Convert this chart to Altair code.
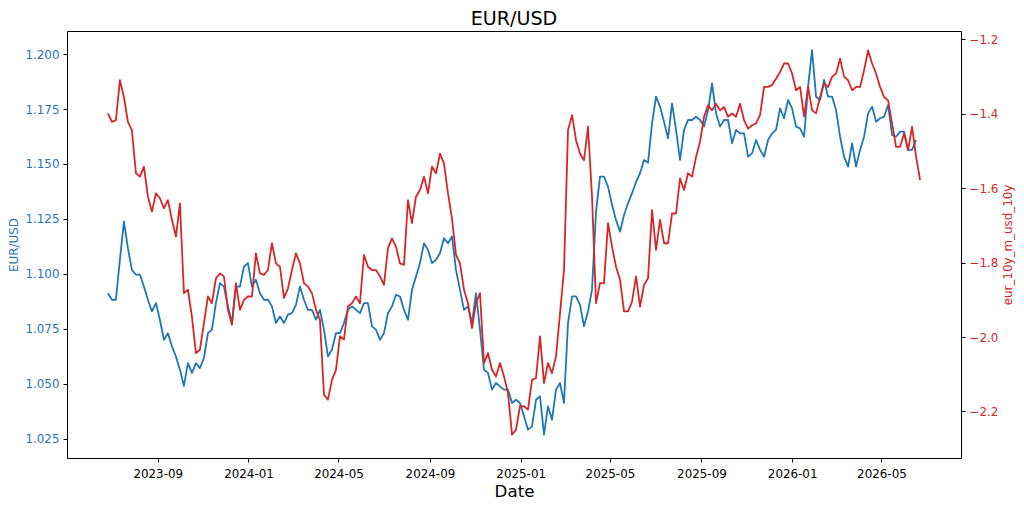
import altair as alt
import pandas as pd

FONT = "DejaVu Sans"
BLUE = "#1f77b4"
RED = "#d62728"

# evenly spaced observation dates read along the x axis
dates = pd.date_range("2023-06-26", "2026-06-22", periods=204)

eurusd = [
    1.0912, 1.0882, 1.0882, 1.1064, 1.1238, 1.1117, 1.1018, 1.0996, 1.0996, 1.0942,
    1.0882, 1.0829, 1.0867, 1.0791, 1.0700, 1.0730, 1.0670, 1.0624, 1.0564, 1.0490,
    1.0594, 1.0549, 1.0594, 1.0571, 1.0617, 1.0730, 1.0746, 1.0867, 1.0958, 1.0942,
    1.0852, 1.0776, 1.0942, 1.0942, 1.1033, 1.1049, 1.0942, 1.0973, 1.0912, 1.0882,
    1.0882, 1.0852, 1.0776, 1.0806,
    1.0776, 1.0814, 1.0821, 1.0859, 1.0942, 1.0882, 1.0836, 1.0836, 1.0791, 1.0836,
    1.0746, 1.0624, 1.0655, 1.0730, 1.0730, 1.0776, 1.0836, 1.0852, 1.0836, 1.0821,
    1.0867, 1.0867, 1.0761, 1.0746, 1.0700, 1.0730, 1.0821, 1.0852, 1.0905, 1.0897,
    1.0836, 1.0791, 1.0927, 1.0988, 1.1049, 1.1139, 1.1109, 1.1049, 1.1064, 1.1094,
    1.1162, 1.1139,
    1.1170, 1.1018, 1.0927, 1.0836, 1.0852, 1.0776, 1.0912, 1.0746, 1.0564, 1.0549,
    1.0473, 1.0503, 1.0488, 1.0473, 1.0473, 1.0412, 1.0427, 1.0412, 1.0352, 1.0291,
    1.0306, 1.0427, 1.0443, 1.0268, 1.0397, 1.0336, 1.0473, 1.0503, 1.0412, 1.0776,
    1.0897, 1.0897, 1.0859, 1.0761, 1.0829, 1.0927, 1.1283, 1.1442, 1.1442, 1.1397,
    1.1314, 1.1245,
    1.1192, 1.1268, 1.1321, 1.1367, 1.1417, 1.1458, 1.1518, 1.1506, 1.1685, 1.1806,
    1.1761, 1.1692, 1.1617, 1.1776, 1.1655, 1.1518, 1.1655, 1.1700, 1.1700, 1.1715,
    1.1700, 1.1670, 1.1745, 1.1867, 1.1730, 1.1670, 1.1700, 1.1700, 1.1594, 1.1655,
    1.1639, 1.1639, 1.1533, 1.1548, 1.1609, 1.1564, 1.1533, 1.1609, 1.1639, 1.1655,
    1.1753, 1.1708, 1.1791,
    1.1753, 1.1670, 1.1662, 1.1624, 1.1851, 1.2018, 1.1806, 1.1791, 1.1882, 1.1806,
    1.1806, 1.1745, 1.1624, 1.1533, 1.1488, 1.1594, 1.1488, 1.1564, 1.1624, 1.1730,
    1.1761, 1.1692, 1.1708, 1.1715, 1.1768, 1.1632, 1.1624, 1.1647, 1.1647, 1.1564,
    1.1564, 1.1609, None,
]

spread = [
    -1.399, -1.422, -1.417, -1.310, -1.355, -1.422, -1.444, -1.560, -1.569, -1.542,
    -1.623, -1.663, -1.614, -1.627, -1.654, -1.632, -1.685, -1.730, -1.641, -1.882,
    -1.873, -1.945, -2.043, -2.034, -1.963, -1.891, -1.909, -1.842, -1.829, -1.837,
    -1.927, -1.967, -1.855, -1.927, -1.900, -1.891, -1.891, -1.775, -1.829, -1.833,
    -1.820, -1.748, -1.802, -1.811,
    -1.895, -1.869, -1.820, -1.775, -1.802, -1.855, -1.864, -1.882, -1.927, -1.954,
    -2.155, -2.168, -2.115, -2.088, -1.998, -2.007, -1.918, -1.909, -1.891, -1.909,
    -1.779, -1.811, -1.820, -1.820, -1.837, -1.860, -1.761, -1.735, -1.757, -1.802,
    -1.806, -1.632, -1.694, -1.623, -1.605, -1.569, -1.614, -1.542, -1.560, -1.507,
    -1.534, -1.614,
    -1.681, -1.779, -1.802, -1.873, -1.909, -1.976, -1.909, -1.882, -2.070, -2.043,
    -2.088, -2.106, -2.070, -2.106, -2.150, -2.262, -2.249, -2.186, -2.186, -2.195,
    -2.115, -2.110, -1.998, -2.124, -2.070, -2.097, -2.052, -1.936, -1.820, -1.444,
    -1.404, -1.471, -1.507, -1.525, -1.435, -1.623, -1.909, -1.855, -1.855, -1.694,
    -1.757, -1.811,
    -1.846, -1.931, -1.931, -1.905, -1.837, -1.918, -1.860, -1.842, -1.659, -1.766,
    -1.685, -1.748, -1.748, -1.668, -1.668, -1.574, -1.605, -1.560, -1.569, -1.516,
    -1.475, -1.408, -1.377, -1.391, -1.373, -1.391, -1.382, -1.408, -1.399, -1.408,
    -1.373, -1.417, -1.440, -1.431, -1.426, -1.404, -1.328, -1.328, -1.323, -1.306,
    -1.288, -1.265, -1.265,
    -1.292, -1.337, -1.328, -1.408, -1.328, -1.391, -1.399, -1.355, -1.319, -1.328,
    -1.301, -1.292, -1.252, -1.301, -1.310, -1.337, -1.328, -1.328, -1.283, -1.230,
    -1.265, -1.292, -1.328, -1.355, -1.364, -1.426, -1.489, -1.489, -1.453, -1.498,
    -1.435, -1.516, -1.578,
]

x_tick_months = [(2023, 9), (2024, 1), (2024, 5), (2024, 9), (2025, 1),
                 (2025, 5), (2025, 9), (2026, 1), (2026, 5)]
left_ticks = [1.025, 1.050, 1.075, 1.100, 1.125, 1.150, 1.175, 1.200]
right_ticks = [-2.2, -2.0, -1.8, -1.6, -1.4, -1.2]

df = pd.DataFrame({"Date": dates, "EURUSD": eurusd, "spread": spread})

x_enc = alt.X(
    "Date:T",
    title="Date",
    scale=alt.Scale(domain=[alt.DateTime(year=2023, month=5, date=2),
                            alt.DateTime(year=2026, month=8, date=16)]),
    axis=alt.Axis(
        values=[alt.DateTime(year=y, month=m, date=1) for (y, m) in x_tick_months],
        format="%Y-%m", labelAngle=0, grid=False, domain=False,
        tickColor="black", tickSize=4, tickWidth=1, labelPadding=6,
        labelFont=FONT, labelFontSize=11.9, labelColor="black", labelOverlap=False,
        titleFont=FONT, titleFontSize=16.7, titleFontWeight="normal",
        titleColor="black", titlePadding=5,
    ),
)

blue = alt.Chart(df).mark_line(color=BLUE, strokeWidth=1.8, strokeJoin="round").encode(
    x=x_enc,
    y=alt.Y(
        "EURUSD:Q", title="EUR/USD",
        scale=alt.Scale(domain=[1.0162, 1.2105], nice=False, zero=False),
        axis=alt.Axis(
            orient="left", values=left_ticks, format=".3f", grid=False, domain=False,
            tickColor="black", tickSize=4, tickWidth=1, labelPadding=4,
            labelFont=FONT, labelFontSize=11.9, labelColor=BLUE,
            titleFont=FONT, titleFontSize=11.9, titleFontWeight="normal",
            titleColor=BLUE, titlePadding=5,
        ),
    ),
)

red = alt.Chart(df).mark_line(color=RED, strokeWidth=1.8, strokeJoin="round").encode(
    x=x_enc,
    y=alt.Y(
        "spread:Q", title="eur_10y_m_usd_10y",
        scale=alt.Scale(domain=[-2.325, -1.1777], nice=False, zero=False),
        axis=alt.Axis(
            orient="right", values=right_ticks, format=".1f", grid=False, domain=False,
            tickColor="black", tickSize=4, tickWidth=1, labelPadding=4,
            labelFont=FONT, labelFontSize=11.9, labelColor=RED,
            titleFont=FONT, titleFontSize=11.9, titleFontWeight="normal",
            titleColor=RED, titlePadding=5, titleAngle=270, titleBaseline="top",
        ),
    ),
)

chart = (
    alt.layer(blue, red)
    .resolve_scale(y="independent")
    .properties(
        width=894,
        height=427,
        title=alt.TitleParams("EUR/USD", font=FONT, fontSize=19.1, fontWeight="normal",
                              color="black", anchor="middle", offset=-13,
                              baseline="alphabetic"),
        autosize=alt.AutoSizeParams(type="none"),
        padding={"left": 67, "top": 31, "right": 63, "bottom": 51},
        background="white",
    )
    .configure_view(stroke="black", strokeWidth=1)
)

chart.save("out.html", embed_options={"renderer": "svg", "actions": False})
